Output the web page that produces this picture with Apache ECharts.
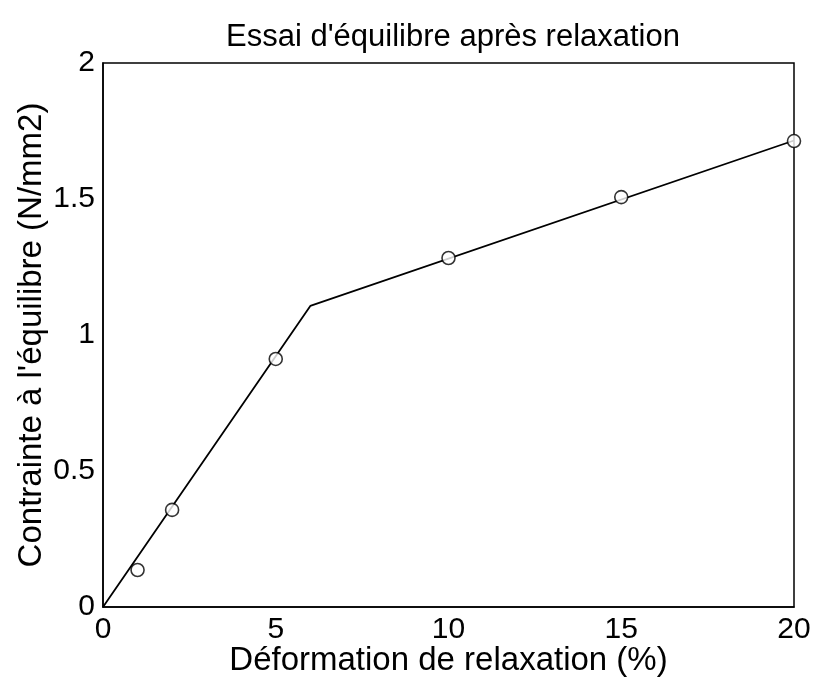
<!DOCTYPE html>
<html>
<head>
<meta charset="utf-8">
<script src="https://cdn.jsdelivr.net/npm/echarts@6/dist/echarts.min.js"></script>
<style>
  html, body { margin: 0; padding: 0; background: #fff; }
  #chart { width: 813px; height: 683px; }
</style>
</head>
<body>
<div id="chart"></div>
<script>
// mesures (cercles)
const deformation = [1, 2, 5, 10, 15, 20];
const contrainte = [0.136, 0.357, 0.912, 1.283, 1.507, 1.713];
// modèle bilinéaire (trait)
const modeleX = [0, 6, 20];
const modeleY = [0, 1.107, 1.715];
const xTicks = [0, 5, 10, 15, 20];
const yTicks = [0, 0.5, 1, 1.5, 2];

const font = "Liberation Sans, Arial, sans-serif";
const chart = echarts.init(document.getElementById("chart"));

const option = {
  backgroundColor: "#fff",
  animation: false,
  title: {
    text: "Essai d'équilibre après relaxation",
    left: 448,
    textAlign: "center",
    top: 17,
    textStyle: { fontFamily: font, fontSize: 31, fontWeight: "normal", color: "#000" },
  },
  grid: {
    left: 103,
    top: 63,
    width: 691,
    height: 544,
    outerBoundsMode: "none",
    containLabel: false,
    show: true,
    borderColor: "#000",
    borderWidth: 1.5,
    backgroundColor: "#fff",
  },
  xAxis: {
    type: "value",
    min: xTicks[0],
    max: xTicks[xTicks.length - 1],
    interval: 5,
    name: "Déformation de relaxation (%)",
    nameLocation: "middle",
    nameGap: 37,
    nameMoveOverlap: false,
    nameTextStyle: { fontFamily: font, fontSize: 33, color: "#000" },
    axisLine: { show: true, lineStyle: { color: "#000", width: 1.5 } },
    axisTick: { show: false },
    splitLine: { show: false },
    axisLabel: { fontFamily: font, fontSize: 30, color: "#000", margin: 8 },
  },
  yAxis: {
    type: "value",
    min: yTicks[0],
    max: yTicks[yTicks.length - 1],
    interval: 0.5,
    name: "Contrainte à l'équilibre (N/mm2)",
    nameLocation: "middle",
    nameGap: 55,
    nameMoveOverlap: false,
    nameTextStyle: { fontFamily: font, fontSize: 33, color: "#000" },
    axisLine: { show: true, lineStyle: { color: "#000", width: 1.5 } },
    axisTick: { show: false },
    splitLine: { show: false },
    axisLabel: { fontFamily: font, fontSize: 30, color: "#000", margin: 8 },
  },
  series: [
    {
      type: "line",
      data: modeleX.map((x, i) => [x, modeleY[i]]),
      showSymbol: false,
      lineStyle: { color: "#000", width: 1.8 },
      z: 2,
    },
    {
      type: "scatter",
      data: deformation.map((x, i) => [x, contrainte[i]]),
      symbol: "circle",
      symbolSize: 13,
      itemStyle: { color: "#fff", borderColor: "#000", borderWidth: 1.6 },
      z: 3,
    },
  ],
};
chart.setOption(option);
</script>
</body>
</html>
